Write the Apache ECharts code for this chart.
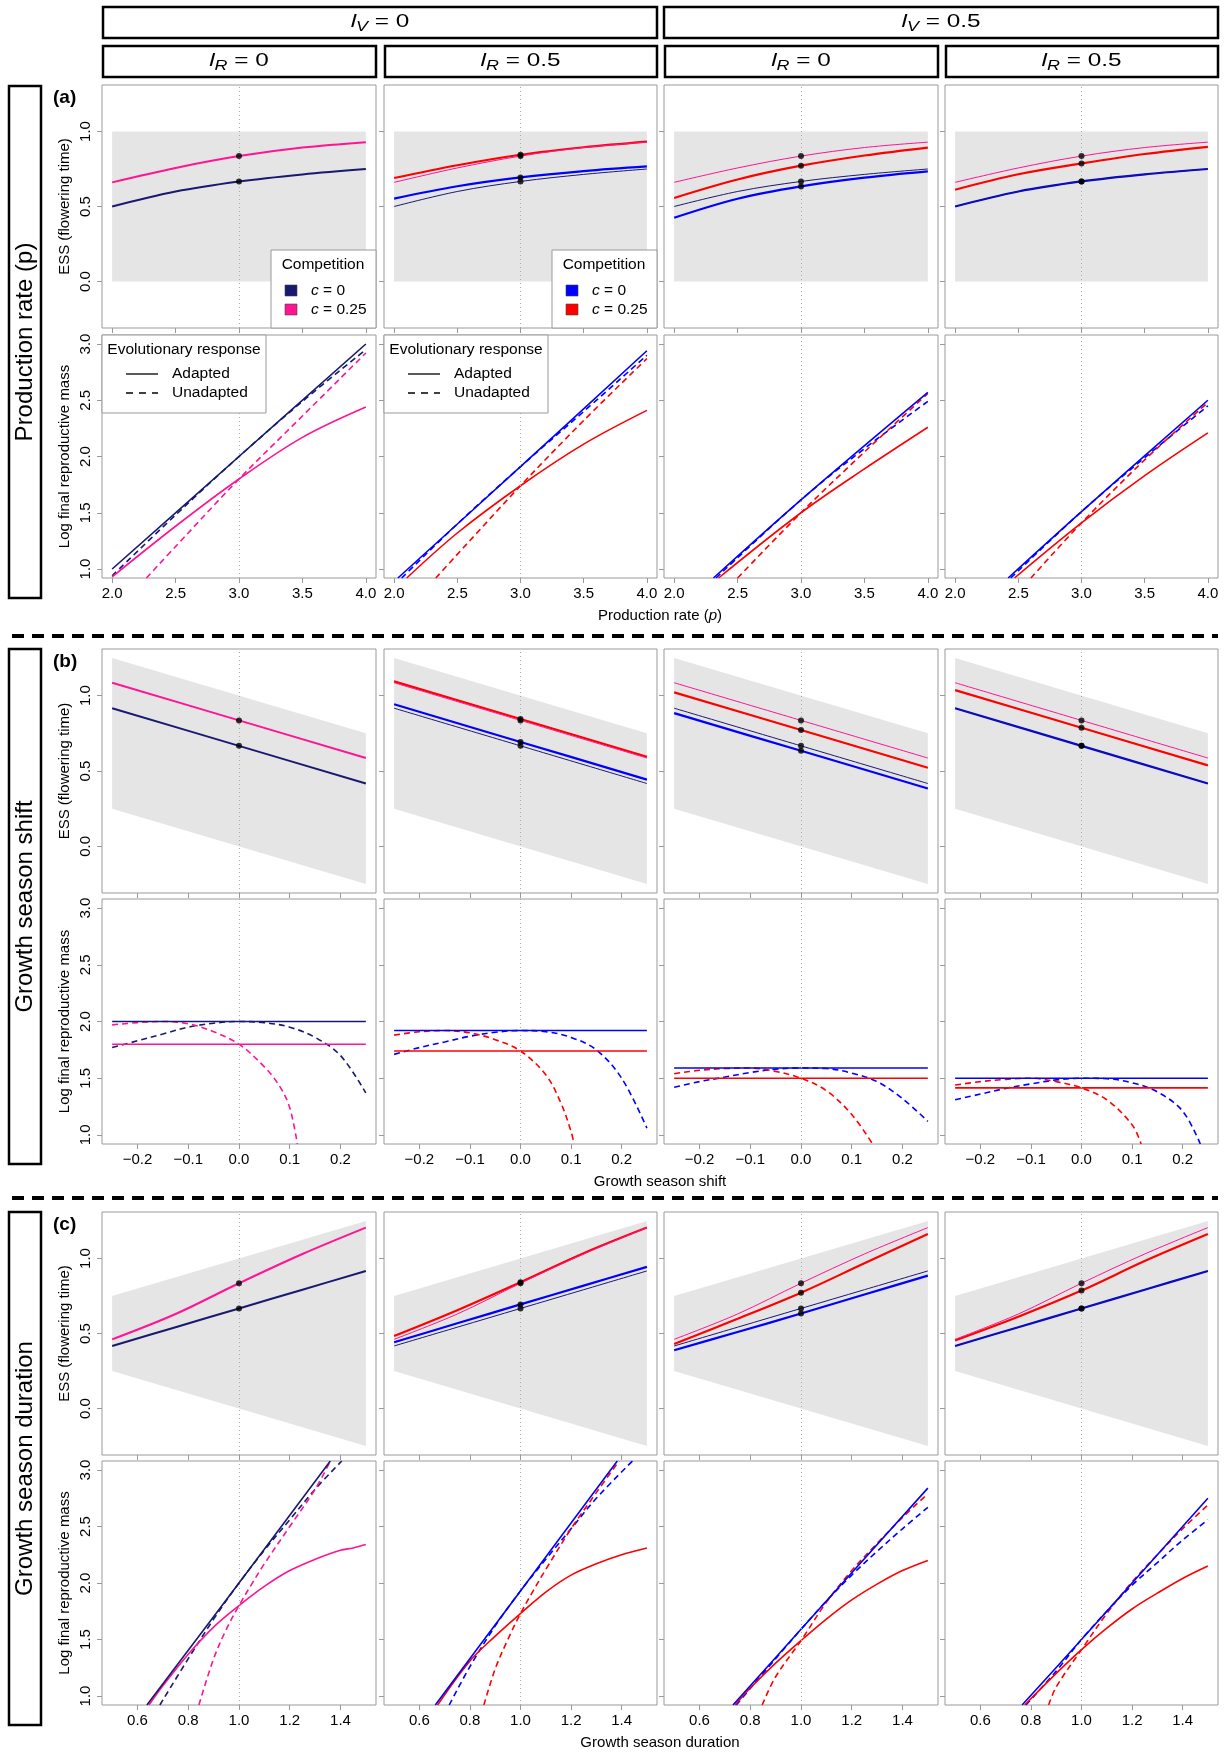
<!DOCTYPE html>
<html>
<head>
<meta charset="utf-8">
<script src="https://cdn.jsdelivr.net/npm/echarts@6/dist/echarts.min.js"></script>
<style>
  html, body { margin: 0; padding: 0; background: #fff; }
  #chart { width: 1225px; height: 1754px; }
</style>
</head>
<body>
<div id="chart"></div>
<script>
// ---- tick labels ----
const pTicks = [2, 2.5, 3, 3.5, 4];
const shiftTicks = [-0.2, -0.1, 0, 0.1, 0.2];
const durTicks = [0.6, 0.8, 1.0, 1.2, 1.4];
const essTicks = [0, 0.5, 1];
const massTicks = [1, 1.5, 2, 2.5, 3];

// ---- grey band: [x, lower, upper] ----
const bandP = [[2, 0, 1], [4, 0, 1]];
const bandShift = [[-0.25, 0.25, 1.25], [0.25, -0.25, 0.75]];
const bandDur = [[0.5, 0.25, 0.75], [1.5, -0.25, 1.25]];

// ---- ESS (flowering time) ----
const pX = [2, 2.5, 3, 3.5, 4];
const essP1_c0 = [0.500, 0.600, 0.667, 0.714, 0.750];
const essP1_c25 = [0.661, 0.757, 0.836, 0.893, 0.929];
const essP2_c0 = [0.553, 0.635, 0.694, 0.736, 0.767];
const essP2_c25 = [0.690, 0.775, 0.845, 0.895, 0.933];
const essP3_c0 = [0.425, 0.552, 0.634, 0.692, 0.734];
const essP3_c25 = [0.557, 0.680, 0.772, 0.840, 0.893];
const essP4_c0 = [0.500, 0.600, 0.667, 0.714, 0.750];
const essP4_c25 = [0.612, 0.715, 0.787, 0.850, 0.898];

const shiftX = [-0.25, 0, 0.25];
const essS1_c0 = [0.917, 0.667, 0.417];
const essS1_c25 = [1.086, 0.836, 0.586];
const essS2_c0 = [0.943, 0.693, 0.443];
const essS2_c25 = [1.095, 0.845, 0.595];
const essS3_c0 = [0.884, 0.634, 0.384];
const essS3_c25 = [1.022, 0.772, 0.522];
const essS4_c0 = [0.917, 0.667, 0.417];
const essS4_c25 = [1.037, 0.787, 0.537];

const durX = [0.5, 0.75, 1.0, 1.25, 1.5];
const essD1_c0 = [0.417, 0.542, 0.667, 0.792, 0.917];
const essD1_c25 = [0.461, 0.630, 0.835, 1.030, 1.206];
const essD2_c0 = [0.442, 0.568, 0.694, 0.819, 0.944];
const essD2_c25 = [0.483, 0.655, 0.842, 1.035, 1.206];
const essD3_c0 = [0.388, 0.510, 0.633, 0.760, 0.886];
const essD3_c25 = [0.430, 0.598, 0.772, 0.968, 1.163];
const essD4_c0 = [0.417, 0.542, 0.667, 0.792, 0.917];
const essD4_c25 = [0.454, 0.612, 0.786, 0.983, 1.163];

// ---- log final reproductive mass: adapted / unadapted ----
const massP1_c0 = [[2.0, 1.00], [3.0, 2.00], [4.0, 3.00]];
const massP1_c0u = [[2.0, 0.94], [2.5, 1.48], [3.0, 2.00], [3.5, 2.49], [4.0, 2.95]];
const massP1_c25 = [[2.0, 0.93], [2.5, 1.38], [3.0, 1.80], [3.5, 2.17], [4.0, 2.44]];
const massP1_c25u = [[2.27, 0.92], [2.5, 1.20], [3.0, 1.80], [3.5, 2.36], [4.0, 2.92]];
const massP2_c0 = [[2.03, 0.92], [3.0, 1.91], [4.0, 2.94]];
const massP2_c0u = [[2.06, 0.92], [2.5, 1.40], [3.0, 1.91], [3.5, 2.40], [4.0, 2.90]];
const massP2_c25 = [[2.10, 0.92], [2.5, 1.32], [3.0, 1.74], [3.5, 2.11], [4.0, 2.41]];
const massP2_c25u = [[2.33, 0.92], [2.5, 1.13], [3.0, 1.74], [3.5, 2.32], [4.0, 2.87]];
const massP3_c0 = [[2.31, 0.92], [3.0, 1.615], [4.0, 2.57]];
const massP3_c0u = [[2.33, 0.92], [3.0, 1.615], [3.5, 2.07], [4.0, 2.49]];
const massP3_c25 = [[2.35, 0.92], [3.0, 1.50], [3.5, 1.89], [4.0, 2.26]];
const massP3_c25u = [[2.50, 0.92], [3.0, 1.50], [3.5, 2.04], [4.0, 2.56]];
const massP4_c0 = [[2.42, 0.92], [3.0, 1.51], [4.0, 2.50]];
const massP4_c0u = [[2.44, 0.92], [3.0, 1.51], [3.5, 1.99], [4.0, 2.45]];
const massP4_c25 = [[2.47, 0.92], [3.0, 1.41], [3.5, 1.83], [4.0, 2.21]];
const massP4_c25u = [[2.60, 0.92], [3.0, 1.41], [3.5, 1.97], [4.0, 2.48]];

const massS1_c0 = [[-0.25, 2.00], [0.25, 2.00]];
const massS1_c0u = [[-0.25, 1.77], [-0.2, 1.83], [-0.15, 1.89], [-0.1, 1.95], [-0.05, 1.985], [0, 2.0], [0.05, 1.99], [0.1, 1.95], [0.15, 1.86], [0.2, 1.70], [0.25, 1.37]];
const massS1_c25 = [[-0.25, 1.80], [0.25, 1.80]];
const massS1_c25u = [[-0.25, 1.97], [-0.2, 1.99], [-0.15, 2.0], [-0.1, 1.98], [-0.05, 1.91], [0, 1.80], [0.05, 1.60], [0.08, 1.43], [0.1, 1.24], [0.115, 0.92]];
const massS2_c0 = [[-0.25, 1.92], [0.25, 1.92]];
const massS2_c0u = [[-0.25, 1.71], [-0.2, 1.77], [-0.15, 1.82], [-0.1, 1.87], [-0.05, 1.905], [0, 1.92], [0.05, 1.91], [0.1, 1.86], [0.15, 1.75], [0.2, 1.50], [0.25, 1.06]];
const massS2_c25 = [[-0.25, 1.74], [0.25, 1.74]];
const massS2_c25u = [[-0.25, 1.88], [-0.2, 1.91], [-0.15, 1.92], [-0.1, 1.90], [-0.05, 1.84], [0, 1.74], [0.05, 1.53], [0.08, 1.28], [0.1, 1.03], [0.106, 0.92]];
const massS3_c0 = [[-0.25, 1.59], [0.25, 1.59]];
const massS3_c0u = [[-0.25, 1.42], [-0.2, 1.47], [-0.15, 1.51], [-0.1, 1.55], [-0.05, 1.58], [0, 1.59], [0.05, 1.585], [0.1, 1.545], [0.15, 1.47], [0.2, 1.32], [0.25, 1.12]];
const massS3_c25 = [[-0.25, 1.50], [0.25, 1.50]];
const massS3_c25u = [[-0.25, 1.54], [-0.2, 1.57], [-0.15, 1.585], [-0.1, 1.59], [-0.05, 1.56], [0, 1.50], [0.05, 1.39], [0.1, 1.18], [0.141, 0.92]];
const massS4_c0 = [[-0.25, 1.50], [0.25, 1.50]];
const massS4_c0u = [[-0.25, 1.31], [-0.2, 1.36], [-0.15, 1.41], [-0.1, 1.45], [-0.05, 1.485], [0, 1.50], [0.05, 1.495], [0.1, 1.46], [0.15, 1.38], [0.2, 1.21], [0.235, 0.92]];
const massS4_c25 = [[-0.25, 1.415], [0.25, 1.415]];
const massS4_c25u = [[-0.25, 1.44], [-0.2, 1.47], [-0.15, 1.49], [-0.1, 1.50], [-0.05, 1.47], [0, 1.415], [0.05, 1.31], [0.1, 1.09], [0.118, 0.92]];

const massD1_c0 = [[0.637, 0.92], [1.0, 2.0], [1.36, 3.08]];
const massD1_c0u = [[0.688, 0.92], [0.8, 1.33], [0.9, 1.68], [1.0, 2.0], [1.1, 2.29], [1.2, 2.56], [1.3, 2.83], [1.405, 3.08]];
const massD1_c25 = [[0.645, 0.92], [0.7, 1.09], [0.8, 1.37], [0.9, 1.61], [1.0, 1.80], [1.1, 1.97], [1.2, 2.11], [1.3, 2.21], [1.4, 2.29], [1.45, 2.31], [1.5, 2.34]];
const massD1_c25u = [[0.842, 0.92], [0.9, 1.33], [0.95, 1.59], [1.0, 1.80], [1.05, 1.99], [1.1, 2.17], [1.2, 2.50], [1.3, 2.83], [1.36, 3.08]];
const massD2_c0 = [[0.663, 0.92], [1.0, 1.93], [1.383, 3.08]];
const massD2_c0u = [[0.718, 0.92], [0.8, 1.26], [0.9, 1.62], [1.0, 1.93], [1.1, 2.21], [1.2, 2.48], [1.3, 2.75], [1.443, 3.08]];
const massD2_c25 = [[0.672, 0.92], [0.8, 1.31], [0.9, 1.53], [1.0, 1.73], [1.1, 1.92], [1.2, 2.07], [1.3, 2.17], [1.4, 2.25], [1.5, 2.31]];
const massD2_c25u = [[0.855, 0.92], [0.9, 1.24], [0.95, 1.50], [1.0, 1.73], [1.05, 1.93], [1.1, 2.12], [1.2, 2.48], [1.3, 2.80], [1.39, 3.08]];
const massD3_c0 = [[0.732, 0.92], [1.0, 1.59], [1.5, 2.84]];
const massD3_c0u = [[0.745, 0.92], [0.9, 1.33], [1.0, 1.59], [1.1, 1.84], [1.2, 2.07], [1.3, 2.28], [1.4, 2.48], [1.5, 2.67]];
const massD3_c25 = [[0.74, 0.92], [0.8, 1.07], [0.9, 1.29], [1.0, 1.49], [1.1, 1.68], [1.2, 1.85], [1.3, 1.99], [1.4, 2.11], [1.5, 2.20]];
const massD3_c25u = [[0.847, 0.92], [0.9, 1.17], [1.0, 1.49], [1.1, 1.83], [1.2, 2.11], [1.3, 2.35], [1.4, 2.58], [1.5, 2.79]];
const massD4_c0 = [[0.765, 0.92], [1.0, 1.50], [1.5, 2.75]];
const massD4_c0u = [[0.78, 0.92], [0.9, 1.22], [1.0, 1.50], [1.1, 1.75], [1.2, 1.98], [1.3, 2.18], [1.4, 2.38], [1.5, 2.56]];
const massD4_c25 = [[0.775, 0.92], [0.9, 1.20], [1.0, 1.41], [1.1, 1.60], [1.2, 1.77], [1.3, 1.91], [1.4, 2.04], [1.5, 2.15]];
const massD4_c25u = [[0.87, 0.92], [0.9, 1.08], [1.0, 1.41], [1.1, 1.73], [1.2, 2.01], [1.3, 2.25], [1.4, 2.48], [1.5, 2.69]];

// ---- styling / layout ----
const FONT = "'Liberation Sans', Arial, Helvetica, sans-serif";
const NAVY = '#191970', PINK = '#ff1493', BLUE = '#0000ff', RED = '#ff0000';
const FRAME = '#9a9a9a', BAND = '#e5e5e5';

const colLeft = [102, 384, 664, 945];
const colWidth = [274, 273, 274, 273];
const rowTop = [85, 335, 649, 899, 1212, 1461];
const rowHeight = [243, 243, 244, 245, 243, 244];

const groups = [
  { xMin: 1.92, xMax: 4.08, ticks: pTicks, ref: 3, band: bandP, essX: pX,
    ess: [[essP1_c0, essP1_c25], [essP2_c0, essP2_c25], [essP3_c0, essP3_c25], [essP4_c0, essP4_c25]],
    mass: [[massP1_c0, massP1_c0u, massP1_c25, massP1_c25u], [massP2_c0, massP2_c0u, massP2_c25, massP2_c25u],
           [massP3_c0, massP3_c0u, massP3_c25, massP3_c25u], [massP4_c0, massP4_c0u, massP4_c25, massP4_c25u]],
    title: '{n|Production rate (}{i|p}{n|)}', label: '(a)', rowName: 'Production rate (p)' },
  { xMin: -0.27, xMax: 0.27, ticks: shiftTicks, ref: 0, band: bandShift, essX: shiftX,
    ess: [[essS1_c0, essS1_c25], [essS2_c0, essS2_c25], [essS3_c0, essS3_c25], [essS4_c0, essS4_c25]],
    mass: [[massS1_c0, massS1_c0u, massS1_c25, massS1_c25u], [massS2_c0, massS2_c0u, massS2_c25, massS2_c25u],
           [massS3_c0, massS3_c0u, massS3_c25, massS3_c25u], [massS4_c0, massS4_c0u, massS4_c25, massS4_c25u]],
    title: '{n|Growth season shift}', label: '(b)', rowName: 'Growth season shift' },
  { xMin: 0.46, xMax: 1.54, ticks: durTicks, ref: 1, band: bandDur, essX: durX,
    ess: [[essD1_c0, essD1_c25], [essD2_c0, essD2_c25], [essD3_c0, essD3_c25], [essD4_c0, essD4_c25]],
    mass: [[massD1_c0, massD1_c0u, massD1_c25, massD1_c25u], [massD2_c0, massD2_c0u, massD2_c25, massD2_c25u],
           [massD3_c0, massD3_c0u, massD3_c25, massD3_c25u], [massD4_c0, massD4_c0u, massD4_c25, massD4_c25u]],
    title: '{n|Growth season duration}', label: '(c)', rowName: 'Growth season duration' }
];

const fmt = v => (v < 0 ? '\u2212' : '') + Math.abs(v).toFixed(1);

const grids = [], xAxes = [], yAxes = [], series = [];

function lineSeries(gi, data, color, width, dashed, z) {
  return {
    type: 'line', xAxisIndex: gi, yAxisIndex: gi, data, symbol: 'none', showSymbol: false,
    smooth: 0.35, clip: true, silent: true, z,
    lineStyle: { color, width, type: dashed ? [6, 4] : 'solid' }
  };
}

function refSeries(gi, x) {
  return {
    type: 'line', xAxisIndex: gi, yAxisIndex: gi, data: [], silent: true, z: 1,
    markLine: { silent: true, symbol: 'none', label: { show: false }, animation: false,
      lineStyle: { color: '#aaaaaa', width: 1, type: [1, 3] }, data: [{ xAxis: x }] }
  };
}

function bandSeries(gi, band) {
  return {
    type: 'custom', xAxisIndex: gi, yAxisIndex: gi, data: band, silent: true, z: 0,
    encode: { x: 0, y: [1, 2] },
    renderItem: (params, api) => {
      if (params.dataIndex !== 0) return;
      const top = band.map(b => api.coord([b[0], b[2]]));
      const bottom = band.slice().reverse().map(b => api.coord([b[0], b[1]]));
      return { type: 'polygon', shape: { points: top.concat(bottom) }, style: { fill: BAND } };
    }
  };
}

groups.forEach((grp, g) => {
  for (let half = 0; half < 2; half++) {
    const r = g * 2 + half;
    const isEss = half === 0;
    for (let c = 0; c < 4; c++) {
      const gi = r * 4 + c;
      grids.push({ left: colLeft[c], top: rowTop[r], width: colWidth[c], height: rowHeight[r],
        show: true, borderColor: FRAME, borderWidth: 1, backgroundColor: 'transparent' });
      xAxes.push({
        type: 'value', gridIndex: gi, min: grp.xMin, max: grp.xMax,
        axisLine: { show: false, onZero: false }, splitLine: { show: false },
        axisTick: { show: true, length: 5, customValues: grp.ticks, lineStyle: { color: FRAME } },
        axisLabel: { show: !isEss, customValues: grp.ticks, formatter: fmt, fontSize: 15,
          color: '#000', fontFamily: FONT, margin: 8 }
      });
      const yTicks = isEss ? essTicks : massTicks;
      yAxes.push({
        type: 'value', gridIndex: gi, min: isEss ? -0.31 : 0.92, max: isEss ? 1.31 : 3.08,
        axisLine: { show: false, onZero: false }, splitLine: { show: false },
        axisTick: { show: true, length: 5, customValues: yTicks, lineStyle: { color: FRAME } },
        axisLabel: { show: c === 0, rotate: 90, customValues: yTicks, formatter: fmt, fontSize: 15,
          color: '#000', fontFamily: FONT, margin: 9 },
        name: c === 0 ? (isEss ? 'ESS (flowering time)' : 'Log final reproductive mass') : '',
        nameLocation: 'middle', nameRotate: 90, nameGap: 30,
        nameTextStyle: { fontSize: 15, color: '#000', fontFamily: FONT }
      });

      if (isEss) {
        const xs = grp.essX;
        const pair = ys => xs.map((x, i) => [x, ys[i]]);
        const [c0, c25] = grp.ess[c];
        const [r0, r25] = grp.ess[0];
        const k = xs.indexOf(grp.ref);
        series.push(bandSeries(gi, grp.band));
        series.push(refSeries(gi, grp.ref));
        let dots;
        if (c === 0) {
          series.push(lineSeries(gi, pair(c0), NAVY, 2, false, 3));
          series.push(lineSeries(gi, pair(c25), PINK, 2, false, 3));
          dots = [c0[k], c25[k]];
        } else {
          series.push(lineSeries(gi, pair(c0), BLUE, 2.2, false, 3));
          series.push(lineSeries(gi, pair(c25), RED, 2.2, false, 3));
          series.push(lineSeries(gi, pair(r0), NAVY, 1, false, 4));
          series.push(lineSeries(gi, pair(r25), PINK, 1, false, 4));
          dots = [c0[k], c25[k], r0[k], r25[k]];
        }
        series.push({ type: 'scatter', xAxisIndex: gi, yAxisIndex: gi, silent: true, z: 6,
          data: dots.map(y => [grp.ref, y]), symbol: 'circle', symbolSize: 6,
          itemStyle: { color: '#000' } });
      } else {
        const m = grp.mass[c];
        const col0 = c === 0 ? NAVY : BLUE, col25 = c === 0 ? PINK : RED;
        series.push(refSeries(gi, grp.ref));
        series.push(lineSeries(gi, m[1], col0, 1.6, true, 3));
        series.push(lineSeries(gi, m[3], col25, 1.6, true, 3));
        series.push(lineSeries(gi, m[2], col25, 1.6, false, 4));
        series.push(lineSeries(gi, m[0], col0, 1.6, false, 4));
      }
    }
  }
});

// ---- decorations: strip headers, row labels, legends ----
const graphic = [];
const txt = (x, y, text, extra) => ({ type: 'text', x, y, z: 100,
  style: Object.assign({ text, fill: '#000', fontFamily: FONT, fontSize: 15, align: 'center', verticalAlign: 'middle' }, extra || {}) });
const box = (x, y, w, h, stroke, lw) => ({ type: 'rect', z: 99,
  shape: { x, y, width: w, height: h }, style: { fill: '#fff', stroke, lineWidth: lw } });

const headRich = {
  i: { fontStyle: 'italic', fontSize: 19, fontFamily: FONT },
  s: { fontStyle: 'italic', fontSize: 14, fontFamily: FONT, padding: [10, 0, 0, 0] },
  n: { fontSize: 19, fontFamily: FONT }
};
const headText = (x, y, t) => Object.assign(txt(x, y, t, { rich: headRich }), { scaleX: 1.28 });
const vStrips = [['{i|l}{s|V}{n| = 0}', 103, 657], ['{i|l}{s|V}{n| = 0.5}', 664, 1218]];
vStrips.forEach(([t, x0, x1]) => {
  graphic.push(box(x0, 7, x1 - x0, 31, '#000', 2.5));
  graphic.push(headText((x0 + x1) / 2, 22, t));
});
const rStrips = ['{i|l}{s|R}{n| = 0}', '{i|l}{s|R}{n| = 0.5}', '{i|l}{s|R}{n| = 0}', '{i|l}{s|R}{n| = 0.5}'];
rStrips.forEach((t, c) => {
  graphic.push(box(colLeft[c] + 1, 46, colWidth[c] - 1, 31, '#000', 2.5));
  graphic.push(headText(colLeft[c] + colWidth[c] / 2, 61, t));
});

const rowBoxes = [[86, 598], [649, 1164], [1212, 1725]];
groups.forEach((grp, g) => {
  const [y0, y1] = rowBoxes[g];
  graphic.push(box(9, y0, 32, y1 - y0, '#000', 2.5));
  graphic.push(Object.assign(txt(25, (y0 + y1) / 2, grp.rowName, { fontSize: 24 }), { rotation: Math.PI / 2 }));
  graphic.push(txt(53, rowTop[g * 2] + 13, grp.label, { fontSize: 19, fontWeight: 'bold', align: 'left' }));
  const bottom = rowTop[g * 2 + 1] + rowHeight[g * 2 + 1];
  graphic.push(txt(660, bottom + 38, grp.title, { rich: {
    n: { fontSize: 15, fontFamily: FONT }, i: { fontSize: 15, fontStyle: 'italic', fontFamily: FONT } } }));
});
[636, 1198].forEach(y => graphic.push({ type: 'line', z: 100,
  shape: { x1: 12, y1: y, x2: 1218, y2: y }, style: { stroke: '#000', lineWidth: 4, lineDash: [12, 8] } }));

// Competition legends (top panels of row a, columns 1 and 2)
[[NAVY, PINK], [BLUE, RED]].forEach(([k0, k25], c) => {
  const right = colLeft[c] + colWidth[c], bottom = rowTop[0] + rowHeight[0];
  const x0 = right - 105, y0 = bottom - 78;
  graphic.push(box(x0, y0, 105, 78, FRAME, 1));
  graphic.push(txt(x0 + 52, y0 + 15, 'Competition', { fontSize: 15.5 }));
  [[k0, '{i|c}{n| = 0}', 40], [k25, '{i|c}{n| = 0.25}', 59]].forEach(([col, t, dy]) => {
    graphic.push({ type: 'rect', z: 101, shape: { x: x0 + 14, y: y0 + dy - 5, width: 12, height: 11 },
      style: { fill: col, stroke: '#444', lineWidth: 0.6 } });
    graphic.push(txt(x0 + 40, y0 + dy + 1, t, { align: 'left', rich: {
      i: { fontSize: 15.5, fontStyle: 'italic', fontFamily: FONT }, n: { fontSize: 15.5, fontFamily: FONT } } }));
  });
});

// Evolutionary response legends (bottom panels of row a, columns 1 and 2)
[0, 1].forEach(c => {
  const x0 = colLeft[c], y0 = rowTop[1];
  graphic.push(box(x0, y0, 164, 78, FRAME, 1));
  graphic.push(txt(x0 + 82, y0 + 15, 'Evolutionary response', { fontSize: 15.5 }));
  [['Adapted', 39, null], ['Unadapted', 58, [7, 6]]].forEach(([t, dy, dash]) => {
    graphic.push({ type: 'line', z: 101, shape: { x1: x0 + 24, y1: y0 + dy, x2: x0 + 56, y2: y0 + dy },
      style: { stroke: '#000', lineWidth: 1.3, lineDash: dash } });
    graphic.push(txt(x0 + 70, y0 + dy, t, { align: 'left', fontSize: 15.5 }));
  });
});

const chart = echarts.init(document.getElementById('chart'), null, { renderer: 'canvas' });
chart.setOption({
  animation: false,
  backgroundColor: '#fff',
  textStyle: { fontFamily: FONT },
  grid: grids,
  xAxis: xAxes,
  yAxis: yAxes,
  series,
  graphic
});
</script>
</body>
</html>
